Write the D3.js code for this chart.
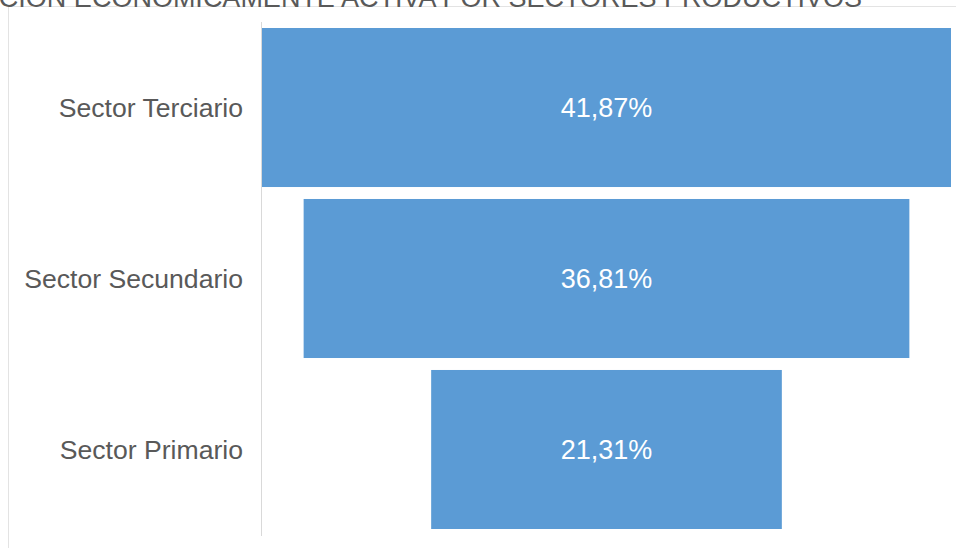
<!DOCTYPE html>
<html>
<head>
<meta charset="utf-8">
<script src="https://cdn.jsdelivr.net/npm/d3@7"></script>
<style>
  body { margin: 0; background: #fff; }
  svg { display: block; font-family: "Liberation Sans", Arial, sans-serif; }
</style>
</head>
<body>
<div id="chart"></div>
<script>
// data
const categories = ["Sector Terciario", "Sector Secundario", "Sector Primario"];
const values = [41.87, 36.81, 21.31];
const valueLabels = ["41,87%", "36,81%", "21,31%"];
const title = "POBLACIÓN ECONÓMICAMENTE ACTIVA POR SECTORES PRODUCTIVOS";

const width = 956;
const height = 548;

// funnel area
const plotLeft = 262;
const plotRight = 951;
const plotTop = 28;
const plotBottom = 529;
const centerX = (plotLeft + plotRight) / 2;

const svg = d3.select("#chart").append("svg")
  .attr("width", width)
  .attr("height", height);

// faint chart frame
svg.append("rect")
  .attr("x", 8.5)
  .attr("y", 6.5)
  .attr("width", 960)
  .attr("height", 600)
  .attr("fill", "none")
  .attr("stroke", "#e3e3e3");

// title, partly cut off at the top as in the source screenshot
svg.append("text")
  .attr("x", 862)
  .attr("y", 7)
  .attr("text-anchor", "end")
  .attr("fill", "#595959")
  .style("font-size", "27px")
  .text(title);

const y = d3.scaleBand()
  .domain(categories)
  .range([plotTop, plotBottom])
  .paddingInner(0.07)
  .paddingOuter(0);

const w = d3.scaleLinear()
  .domain([0, d3.max(values)])
  .range([0, plotRight - plotLeft]);

// axis line
svg.append("line")
  .attr("x1", plotLeft - 0.5)
  .attr("x2", plotLeft - 0.5)
  .attr("y1", 22)
  .attr("y2", 536)
  .attr("stroke", "#d9d9d9");

const rows = svg.selectAll(".row")
  .data(categories)
  .enter().append("g")
  .attr("class", "row");

rows.append("rect")
  .attr("x", (d, i) => centerX - w(values[i]) / 2)
  .attr("y", d => y(d))
  .attr("width", (d, i) => w(values[i]))
  .attr("height", y.bandwidth())
  .attr("fill", "#5b9bd5");

rows.append("text")
  .attr("x", centerX)
  .attr("y", d => y(d) + y.bandwidth() / 2)
  .attr("dy", "0.35em")
  .attr("text-anchor", "middle")
  .attr("fill", "#ffffff")
  .style("font-size", "27px")
  .text((d, i) => valueLabels[i]);

rows.append("text")
  .attr("x", 243)
  .attr("y", d => y(d) + y.bandwidth() / 2)
  .attr("dy", "0.35em")
  .attr("text-anchor", "end")
  .attr("fill", "#595959")
  .style("font-size", "26.6px")
  .text(d => d);
</script>
</body>
</html>
